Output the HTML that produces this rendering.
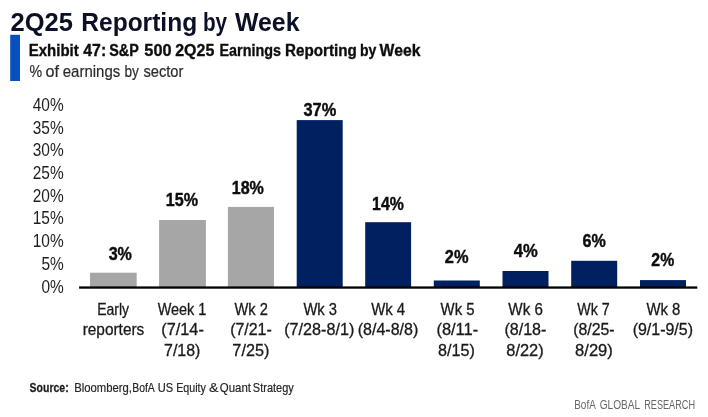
<!DOCTYPE html>
<html><head><meta charset="utf-8"><style>
html,body{margin:0;padding:0;background:#fff;width:708px;height:417px;overflow:hidden}
svg{display:block;will-change:transform}
text{font-family:"Liberation Sans", sans-serif}
</style></head><body>
<svg width="708" height="417" viewBox="0 0 708 417">
<rect width="708" height="417" fill="#fff"/>
<rect x="90.00" y="272.70" width="46.70" height="14.80" fill="#a6a6a6"/>
<rect x="159.10" y="220.00" width="46.80" height="67.50" fill="#a6a6a6"/>
<rect x="227.90" y="206.90" width="46.10" height="80.60" fill="#a6a6a6"/>
<rect x="296.70" y="120.10" width="46.00" height="167.40" fill="#002060"/>
<rect x="365.20" y="222.20" width="45.90" height="65.30" fill="#002060"/>
<rect x="433.80" y="280.50" width="46.00" height="7.00" fill="#002060"/>
<rect x="502.50" y="271.00" width="46.00" height="16.50" fill="#002060"/>
<rect x="571.20" y="260.80" width="46.00" height="26.70" fill="#002060"/>
<rect x="640.00" y="280.10" width="46.00" height="7.40" fill="#002060"/>
<rect x="79.1" y="286.4" width="618.2" height="2.3" fill="#000"/>
<rect x="10.2" y="34.8" width="9.8" height="46.2" fill="#0a4fc0"/>
<text transform="translate(10.53,30.50) scale(1.0209,1)" font-weight="700" font-size="25" fill="#0b1026">2Q25</text>
<text transform="translate(81.28,30.50) scale(0.9817,1)" font-weight="700" font-size="25" fill="#0b1026">Reporting</text>
<text transform="translate(202.95,30.50) scale(0.8294,1)" font-weight="700" font-size="25" fill="#0b1026">by</text>
<text transform="translate(234.90,30.50) scale(0.9961,1)" font-weight="700" font-size="25" fill="#0b1026">Week</text>
<text transform="translate(28.81,55.50) scale(0.8700,1)" font-weight="700" font-size="17.2" fill="#0d0d0d" stroke="#0d0d0d" stroke-width="0.35">Exhibit</text>
<text transform="translate(83.27,55.50) scale(0.9217,1)" font-weight="700" font-size="17.2" fill="#0d0d0d" stroke="#0d0d0d" stroke-width="0.35">47:</text>
<text transform="translate(109.28,55.50) scale(0.8350,1)" font-weight="700" font-size="17.2" fill="#0d0d0d" stroke="#0d0d0d" stroke-width="0.35">S&amp;P</text>
<text transform="translate(144.33,55.50) scale(0.9491,1)" font-weight="700" font-size="17.2" fill="#0d0d0d" stroke="#0d0d0d" stroke-width="0.35">500</text>
<text transform="translate(175.24,55.50) scale(0.9293,1)" font-weight="700" font-size="17.2" fill="#0d0d0d" stroke="#0d0d0d" stroke-width="0.35">2Q25</text>
<text transform="translate(219.45,55.50) scale(0.8364,1)" font-weight="700" font-size="17.2" fill="#0d0d0d" stroke="#0d0d0d" stroke-width="0.35">Earnings</text>
<text transform="translate(285.10,55.50) scale(0.8838,1)" font-weight="700" font-size="17.2" fill="#0d0d0d" stroke="#0d0d0d" stroke-width="0.35">Reporting</text>
<text transform="translate(359.88,55.50) scale(0.8160,1)" font-weight="700" font-size="17.2" fill="#0d0d0d" stroke="#0d0d0d" stroke-width="0.35">by</text>
<text transform="translate(379.60,55.50) scale(0.9146,1)" font-weight="700" font-size="17.2" fill="#0d0d0d" stroke="#0d0d0d" stroke-width="0.35">Week</text>
<text transform="translate(29.48,76.70) scale(0.8429,1)" font-weight="400" font-size="16.9" fill="#2b2b2b" stroke="#2b2b2b" stroke-width="0.2">%</text>
<text transform="translate(45.48,76.70) scale(0.9585,1)" font-weight="400" font-size="16.9" fill="#2b2b2b" stroke="#2b2b2b" stroke-width="0.2">of</text>
<text transform="translate(62.74,76.70) scale(0.8866,1)" font-weight="400" font-size="16.9" fill="#2b2b2b" stroke="#2b2b2b" stroke-width="0.2">earnings</text>
<text transform="translate(124.49,76.70) scale(0.8060,1)" font-weight="400" font-size="16.9" fill="#2b2b2b" stroke="#2b2b2b" stroke-width="0.2">by</text>
<text transform="translate(143.47,76.70) scale(0.8685,1)" font-weight="400" font-size="16.9" fill="#2b2b2b" stroke="#2b2b2b" stroke-width="0.2">sector</text>
<text transform="translate(32.77,110.80) scale(0.8696,1)" font-weight="400" font-size="17.8" fill="#1f1f1f">40%</text>
<text transform="translate(32.77,133.54) scale(0.8696,1)" font-weight="400" font-size="17.8" fill="#1f1f1f">35%</text>
<text transform="translate(32.77,156.27) scale(0.8696,1)" font-weight="400" font-size="17.8" fill="#1f1f1f">30%</text>
<text transform="translate(32.77,179.01) scale(0.8696,1)" font-weight="400" font-size="17.8" fill="#1f1f1f">25%</text>
<text transform="translate(32.77,201.75) scale(0.8696,1)" font-weight="400" font-size="17.8" fill="#1f1f1f">20%</text>
<text transform="translate(32.77,224.49) scale(0.8696,1)" font-weight="400" font-size="17.8" fill="#1f1f1f">15%</text>
<text transform="translate(32.77,247.22) scale(0.8696,1)" font-weight="400" font-size="17.8" fill="#1f1f1f">10%</text>
<text transform="translate(41.46,269.96) scale(0.8696,1)" font-weight="400" font-size="17.8" fill="#1f1f1f">5%</text>
<text transform="translate(41.46,292.70) scale(0.8696,1)" font-weight="400" font-size="17.8" fill="#1f1f1f">0%</text>
<text transform="translate(108.65,259.70) scale(0.9051,1)" font-weight="700" font-size="17.8" fill="#0d0d0d" stroke="#0d0d0d" stroke-width="0.4">3%</text>
<text transform="translate(165.79,205.60) scale(0.9059,1)" font-weight="700" font-size="17.8" fill="#0d0d0d" stroke="#0d0d0d" stroke-width="0.4">15%</text>
<text transform="translate(231.70,193.70) scale(0.9029,1)" font-weight="700" font-size="17.8" fill="#0d0d0d" stroke="#0d0d0d" stroke-width="0.4">18%</text>
<text transform="translate(303.44,115.90) scale(0.9217,1)" font-weight="700" font-size="17.8" fill="#0d0d0d" stroke="#0d0d0d" stroke-width="0.4">37%</text>
<text transform="translate(372.11,209.60) scale(0.8912,1)" font-weight="700" font-size="17.8" fill="#0d0d0d" stroke="#0d0d0d" stroke-width="0.4">14%</text>
<text transform="translate(444.84,262.80) scale(0.9212,1)" font-weight="700" font-size="17.8" fill="#0d0d0d" stroke="#0d0d0d" stroke-width="0.4">2%</text>
<text transform="translate(513.67,256.60) scale(0.9320,1)" font-weight="700" font-size="17.8" fill="#0d0d0d" stroke="#0d0d0d" stroke-width="0.4">4%</text>
<text transform="translate(582.52,246.60) scale(0.9061,1)" font-weight="700" font-size="17.8" fill="#0d0d0d" stroke="#0d0d0d" stroke-width="0.4">6%</text>
<text transform="translate(651.36,265.80) scale(0.8889,1)" font-weight="700" font-size="17.8" fill="#0d0d0d" stroke="#0d0d0d" stroke-width="0.4">2%</text>
<text transform="translate(97.15,314.80) scale(0.8438,1)" font-weight="400" font-size="16.6" fill="#1a1a1a" stroke="#1a1a1a" stroke-width="0.3">Early</text>
<text transform="translate(82.67,335.30) scale(0.9282,1)" font-weight="400" font-size="16.6" fill="#1a1a1a" stroke="#1a1a1a" stroke-width="0.3">reporters</text>
<text transform="translate(157.68,314.80) scale(0.8709,1)" font-weight="400" font-size="16.6" fill="#1a1a1a" stroke="#1a1a1a" stroke-width="0.3">Week 1</text>
<text transform="translate(161.32,335.30) scale(0.9807,1)" font-weight="400" font-size="16.6" fill="#1a1a1a" stroke="#1a1a1a" stroke-width="0.3">(7/14-</text>
<text transform="translate(164.08,355.60) scale(0.9611,1)" font-weight="400" font-size="16.6" fill="#1a1a1a" stroke="#1a1a1a" stroke-width="0.3">7/18)</text>
<text transform="translate(234.38,314.80) scale(0.8844,1)" font-weight="400" font-size="16.6" fill="#1a1a1a" stroke="#1a1a1a" stroke-width="0.3">Wk 2</text>
<text transform="translate(230.14,335.30) scale(0.9614,1)" font-weight="400" font-size="16.6" fill="#1a1a1a" stroke="#1a1a1a" stroke-width="0.3">(7/21-</text>
<text transform="translate(232.37,355.60) scale(0.9778,1)" font-weight="400" font-size="16.6" fill="#1a1a1a" stroke="#1a1a1a" stroke-width="0.3">7/25)</text>
<text transform="translate(303.38,314.80) scale(0.8925,1)" font-weight="400" font-size="16.6" fill="#1a1a1a" stroke="#1a1a1a" stroke-width="0.3">Wk 3</text>
<text transform="translate(284.23,335.30) scale(0.9743,1)" font-weight="400" font-size="16.6" fill="#1a1a1a" stroke="#1a1a1a" stroke-width="0.3">(7/28-8/1)</text>
<text transform="translate(371.17,314.80) scale(0.9000,1)" font-weight="400" font-size="16.6" fill="#1a1a1a" stroke="#1a1a1a" stroke-width="0.3">Wk 4</text>
<text transform="translate(357.73,335.30) scale(0.9663,1)" font-weight="400" font-size="16.6" fill="#1a1a1a" stroke="#1a1a1a" stroke-width="0.3">(8/4-8/8)</text>
<text transform="translate(440.58,314.80) scale(0.8980,1)" font-weight="400" font-size="16.6" fill="#1a1a1a" stroke="#1a1a1a" stroke-width="0.3">Wk 5</text>
<text transform="translate(436.41,335.30) scale(0.9913,1)" font-weight="400" font-size="16.6" fill="#1a1a1a" stroke="#1a1a1a" stroke-width="0.3">(8/11-</text>
<text transform="translate(438.07,355.60) scale(0.9722,1)" font-weight="400" font-size="16.6" fill="#1a1a1a" stroke="#1a1a1a" stroke-width="0.3">8/15)</text>
<text transform="translate(508.37,314.80) scale(0.9143,1)" font-weight="400" font-size="16.6" fill="#1a1a1a" stroke="#1a1a1a" stroke-width="0.3">Wk 6</text>
<text transform="translate(504.43,335.30) scale(0.9687,1)" font-weight="400" font-size="16.6" fill="#1a1a1a" stroke="#1a1a1a" stroke-width="0.3">(8/18-</text>
<text transform="translate(506.26,355.60) scale(0.9889,1)" font-weight="400" font-size="16.6" fill="#1a1a1a" stroke="#1a1a1a" stroke-width="0.3">8/22)</text>
<text transform="translate(577.19,314.80) scale(0.8599,1)" font-weight="400" font-size="16.6" fill="#1a1a1a" stroke="#1a1a1a" stroke-width="0.3">Wk 7</text>
<text transform="translate(573.25,335.30) scale(0.9542,1)" font-weight="400" font-size="16.6" fill="#1a1a1a" stroke="#1a1a1a" stroke-width="0.3">(8/25-</text>
<text transform="translate(575.05,355.60) scale(1.0000,1)" font-weight="400" font-size="16.6" fill="#1a1a1a" stroke="#1a1a1a" stroke-width="0.3">8/29)</text>
<text transform="translate(646.38,314.80) scale(0.8980,1)" font-weight="400" font-size="16.6" fill="#1a1a1a" stroke="#1a1a1a" stroke-width="0.3">Wk 8</text>
<text transform="translate(632.64,335.30) scale(0.9630,1)" font-weight="400" font-size="16.6" fill="#1a1a1a" stroke="#1a1a1a" stroke-width="0.3">(9/1-9/5)</text>
<text transform="translate(29.60,391.50) scale(0.8021,1)" font-weight="700" font-size="13.1" fill="#1a1a1a" stroke="#1a1a1a" stroke-width="0.25">Source:</text>
<text transform="translate(74.24,391.50) scale(0.8633,1)" font-weight="400" font-size="13.1" fill="#262626" stroke="#262626" stroke-width="0.2">Bloomberg,</text>
<text transform="translate(132.20,391.50) scale(0.7963,1)" font-weight="400" font-size="13.1" fill="#262626" stroke="#262626" stroke-width="0.2">BofA</text>
<text transform="translate(157.65,391.50) scale(0.8485,1)" font-weight="400" font-size="13.1" fill="#262626" stroke="#262626" stroke-width="0.2">US</text>
<text transform="translate(176.18,391.50) scale(0.8170,1)" font-weight="400" font-size="13.1" fill="#262626" stroke="#262626" stroke-width="0.2">Equity</text>
<text transform="translate(208.96,391.50) scale(1.0750,1)" font-weight="400" font-size="13.1" fill="#262626" stroke="#262626" stroke-width="0.2">&amp;</text>
<text transform="translate(219.85,391.50) scale(0.8719,1)" font-weight="400" font-size="13.1" fill="#262626" stroke="#262626" stroke-width="0.2">Quant</text>
<text transform="translate(252.87,391.50) scale(0.8396,1)" font-weight="400" font-size="13.1" fill="#262626" stroke="#262626" stroke-width="0.2">Strategy</text>
<text transform="translate(574.25,408.50) scale(0.7527,1)" font-weight="400" font-size="13.2" fill="#666666">BofA</text>
<text transform="translate(599.72,408.50) scale(0.7670,1)" font-weight="400" font-size="13.2" fill="#666666">GLOBAL</text>
<text transform="translate(644.21,408.50) scale(0.6933,1)" font-weight="400" font-size="13.2" fill="#666666">RESEARCH</text>
</svg>
</body></html>
